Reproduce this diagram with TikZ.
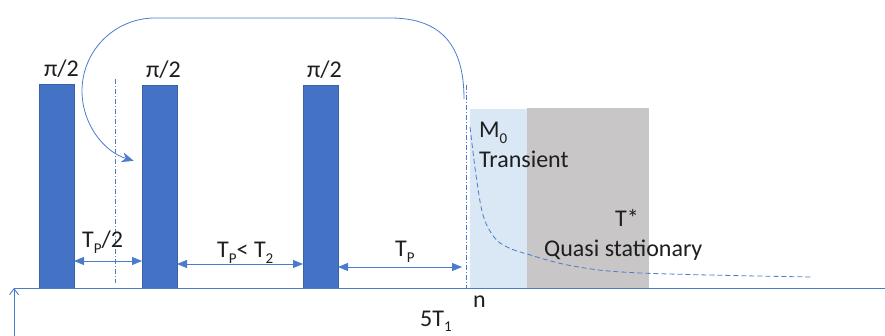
\documentclass[tikz,border=0pt]{standalone}
\usepackage{fontspec}
\setmainfont{Carlito}
\usetikzlibrary{arrows.meta}
\definecolor{barblue}{HTML}{4472C4}
\definecolor{lineblue}{HTML}{4A7CCB}
\definecolor{lightband}{HTML}{DAE7F4}
\definecolor{greyband}{HTML}{C8C6C6}
\definecolor{txt}{HTML}{1E1E1E}
\newcommand\subx[1]{\raisebox{-0.22em}{\fontsize{15}{15}\selectfont #1}}
\tikzset{
  pulse/.style={fill=barblue,draw=barblue!85!black,line width=0.5pt},
  lbl/.style={anchor=base west,inner sep=0pt,text=txt,font=\fontsize{24}{27}\selectfont},
  dimarrow/.style={lineblue,line width=0.9pt,{Triangle[length=10pt,width=8pt]}-{Triangle[length=10pt,width=8pt]}},
  marker/.style={lineblue,line width=0.7pt,dash pattern=on 5pt off 2pt on 1pt off 2pt},
  conn/.style={lineblue,line width=0.9pt}
}
\begin{document}
\begin{tikzpicture}[x=1pt,y=-1pt]
\useasboundingbox (0,0) rectangle (885,336);
% bands
\fill[lightband] (470,109) rectangle (527,288);
\fill[greyband] (527,108) rectangle (649,288);
% pulses
\draw[pulse] (39,84) rectangle (74,288);
\draw[pulse] (142,85) rectangle (177,288);
\draw[pulse] (303,85) rectangle (338,288);
\coordinate (b1r) at (74,261); \coordinate (b2l) at (142,261);
\coordinate (b2r) at (177,264); \coordinate (b3l) at (303,264);
\coordinate (b3r) at (338,267); \coordinate (nl) at (462,267);
% markers
\draw[marker] (115,79) -- (115,283);
\draw[marker] (466.5,85) -- (466.5,288);
% axis
\coordinate (ax0) at (14,288); \coordinate (ax1) at (885,288); \coordinate (axb) at (14,336);
\draw[conn] (ax0) -- (ax1);
\draw[conn,-{Straight Barb[length=6pt,width=9pt]}] (axb) -- (ax0);
% dimension arrows
\draw[dimarrow] (b1r) -- (b2l);
\draw[dimarrow] (b2r) -- (b3l);
\draw[dimarrow] (b3r) -- (nl);
% big return arc
\coordinate (arcstart) at (464,99);
\draw[conn,line width=0.8pt,-{Stealth[length=12pt,width=10pt]}] (arcstart) .. controls (464,46) and (442,18) .. (390,18) -- (155,18) arc[start angle=270,end angle=107,radius=73];
% dashed decay
\draw[lineblue,line width=0.8pt,dash pattern=on 5pt off 3pt] plot[smooth,tension=0.6] coordinates {(470,127) (476,175) (483,215) (494,237) (507,247) (527,254) (573,266) (640,273) (812,277)};
% labels
\node[lbl] (p1) at (44,77) {π/2};
\node[lbl] (p2) at (146,78) {π/2};
\node[lbl] (p3) at (307,78) {π/2};
\node[lbl] (d1) at (82,248) {T\subx{P}/2};
\node[lbl] (d2) at (217,258) {T\subx{P}< T\subx{2}};
\node[lbl] (d3) at (395,257) {T\subx{P}};
\node[lbl] (m0) at (479,138) {M\subx{0}};
\node[lbl] (tr) at (479,168) {Transient};
\node[lbl] (ts) at (615,227) {T*};
\node[lbl] (qs) at (544,257) {Quasi stationary};
\node[lbl] (nn) at (473,308) {n};
\node[lbl] (t1) at (420,326) {5T\subx{1}};
\end{tikzpicture}
\end{document}
